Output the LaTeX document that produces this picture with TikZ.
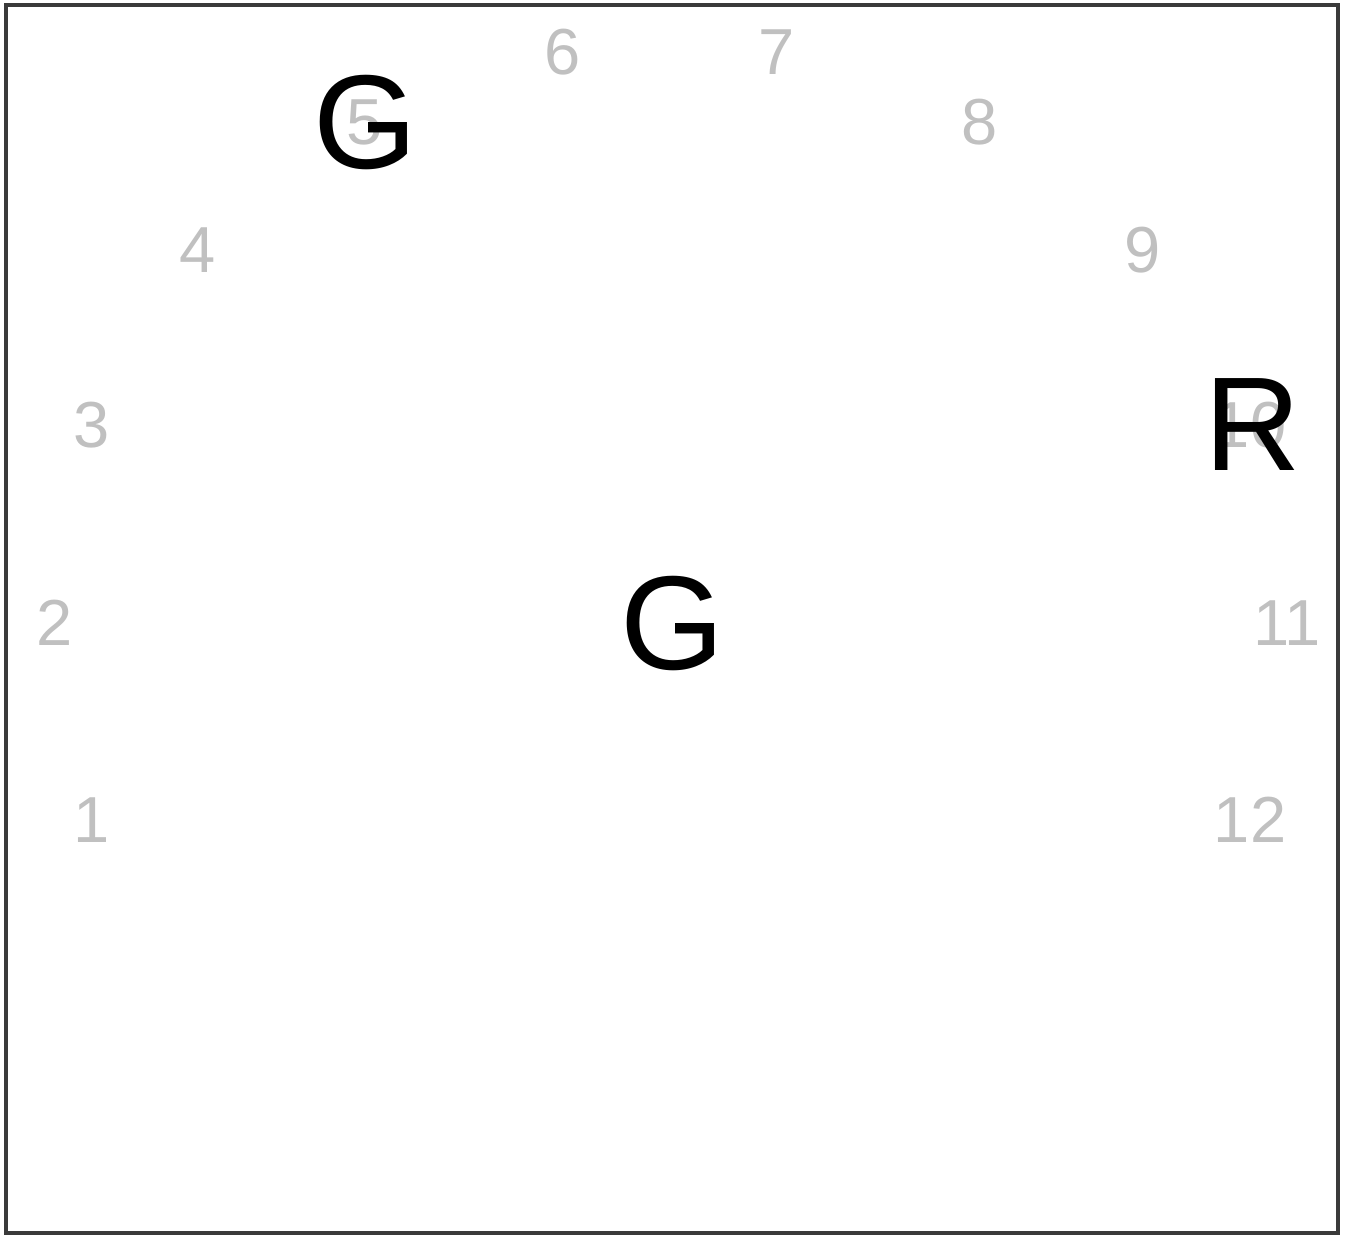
\documentclass[tikz,border=0pt]{standalone}
\usepackage{fontspec}
\setmainfont{Liberation Sans}
\definecolor{cnum}{HTML}{C0C0C0}
\definecolor{cframe}{HTML}{3A3A3A}
\tikzset{
  every picture/.style={line width=0.9pt},
  num/.style={text=cnum, inner sep=0pt, font=\fontsize{18.5}{20}\selectfont},
  letter/.style={text=black, inner sep=0pt, font=\fontsize{38}{40}\selectfont},
}
\begin{document}
\begin{tikzpicture}[x=0.01cm, y=-0.01cm]
  \useasboundingbox (0,0) rectangle (1348,1236);
  \draw[cframe] (6,5) rectangle (1338,1233);
  % the numbered positions
  \foreach \n/\px/\py in {1/92/820, 2/55/623, 3/92/425, 4/198/250, 5/365/122, 6/563/52,
    7/777/52, 8/980/122, 9/1143/250, 10/1250/425, 11/1287/623, 12/1250/820}
    \node[num] (p\n) at (\px,\py) {\n};
  % the letters on top
  \node[letter] (g5) at (p5) {G};
  \node[letter] (r10) at (1253,425) {R};
  \node[letter] (gc) at (672,623) {G};
\end{tikzpicture}
\end{document}
